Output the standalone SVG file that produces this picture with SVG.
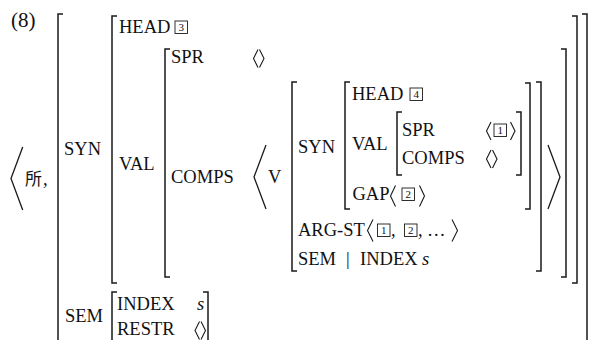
<svg xmlns="http://www.w3.org/2000/svg" width="595" height="340" viewBox="0 0 595 340">
<style>
.t{font-family:"Liberation Serif","Times New Roman",serif;font-size:18.5px;fill:#111}
.i{font-style:italic}
.cjk{font-family:"Noto Sans CJK SC","Noto Sans CJK JP",sans-serif;font-size:17px;fill:#111}
.n{font-family:"Liberation Serif","Times New Roman",serif;font-size:11px;fill:#111;text-anchor:middle}
.b{fill:none;stroke:#1a1a1a;stroke-width:1.5}
.bx{fill:none;stroke:#1a1a1a;stroke-width:0.9}
.a{fill:none;stroke:#1a1a1a;stroke-width:1.1}
.A{fill:none;stroke:#1a1a1a;stroke-width:1.3}
</style>
<rect width="595" height="340" fill="#fff"/>
<text class="t" x="11" y="27" style="font-size:21px">(8)</text>

<g id="brackets">
  <path class="b" d="M63 14H58V345"/>
  <path class="b" d="M582 14H587V345"/>
  <path class="b" d="M117 16H112V283H117"/>
  <path class="b" d="M572 16H577V283H572"/>
  <path class="b" d="M170 49H165V277H170"/>
  <path class="b" d="M561 49H566V277H561"/>
  <path class="b" d="M297 82H292V271H297"/>
  <path class="b" d="M536 82H541V271H536"/>
  <path class="b" d="M350 82H345V209H350"/>
  <path class="b" d="M525 83H530V209H525"/>
  <path class="b" d="M402 112H397V175H402"/>
  <path class="b" d="M516 112H521V175H516"/>
  <path class="b" d="M117 292H112V345"/>
  <path class="b" d="M203 292H208V345"/>
</g>

<g id="angles">
  <path class="A" d="M22.7 147L11 178.5L22.7 210"/>
  <path class="A" d="M266 145L254 177L266 209"/>
  <path class="A" d="M548 145L560 177L548 209"/>
</g>

<g id="sign">
  <text class="cjk" x="25" y="185">所</text>
  <text class="t" x="43" y="185">,</text>
</g>

<g id="outer-syn">
  <text class="t" x="64" y="155">SYN</text>
  <text class="t" x="119" y="33">HEAD</text>
  <rect class="bx" x="175" y="21" width="12.5" height="12.5"/>
  <text class="n" x="181.25" y="31.3">3</text>
  <text class="t" x="119" y="170">VAL</text>
  <text class="t" x="171" y="63">SPR</text>
  <path class="a" d="M258 49.5L253.5 58.5L258 67.5M259.5 49.5L264 58.5L259.5 67.5"/>
  <text class="t" x="171" y="183">COMPS</text>
  <text class="t" x="268" y="183">V</text>
</g>

<g id="inner-v">
  <text class="t" x="298" y="153">SYN</text>
  <text class="t" x="352" y="100">HEAD</text>
  <rect class="bx" x="410" y="88" width="12.5" height="12.5"/>
  <text class="n" x="416.25" y="98.3">4</text>
  <text class="t" x="352" y="150">VAL</text>
  <text class="t" x="402" y="136">SPR</text>
  <path class="a" d="M491 122L486.5 131L491 140"/>
  <rect class="bx" x="494" y="124" width="12.5" height="12.5"/>
  <text class="n" x="500.25" y="134.3">1</text>
  <path class="a" d="M510.5 122L515 131L510.5 140"/>
  <text class="t" x="402" y="164">COMPS</text>
  <path class="a" d="M491 150L486.5 159L491 168M492.5 150L497 159L492.5 168"/>
  <text class="t" x="352.5" y="200">GAP</text>
  <path class="a" d="M395.5 185.5L390.5 196L395.5 206.5"/>
  <rect class="bx" x="402" y="188" width="12.5" height="12.5"/>
  <text class="n" x="408.25" y="198.3">2</text>
  <path class="a" d="M419.5 185.5L424.5 196L419.5 206.5"/>
  <text class="t" x="298" y="236">ARG-ST</text>
  <path class="a" d="M373 219.5L367.5 230.5L373 241.5"/>
  <rect class="bx" x="377.5" y="224" width="12.5" height="12.5"/>
  <text class="n" x="383.75" y="234.3">1</text>
  <text class="t" x="391" y="236">,</text>
  <rect class="bx" x="404.5" y="224" width="12.5" height="12.5"/>
  <text class="n" x="410.75" y="234.3">2</text>
  <text class="t" x="418" y="236">,</text>
  <text class="t" x="427" y="236">…</text>
  <path class="a" d="M452 219.5L457.5 230.5L452 241.5"/>
  <text class="t" x="298" y="265">SEM</text>
  <text class="t" x="346" y="265">|</text>
  <text class="t" x="360" y="265">INDEX</text>
  <text class="t i" x="422" y="265">s</text>
</g>

<g id="outer-sem">
  <text class="t" x="65" y="322">SEM</text>
  <text class="t" x="117" y="309.5">INDEX</text>
  <text class="t i" x="197" y="309.5">s</text>
  <text class="t" x="117" y="335">RESTR</text>
  <path class="a" d="M199.5 321.5L195 330.5L199.5 339.5M201 321.5L205.5 330.5L201 339.5"/>
</g>
</svg>
